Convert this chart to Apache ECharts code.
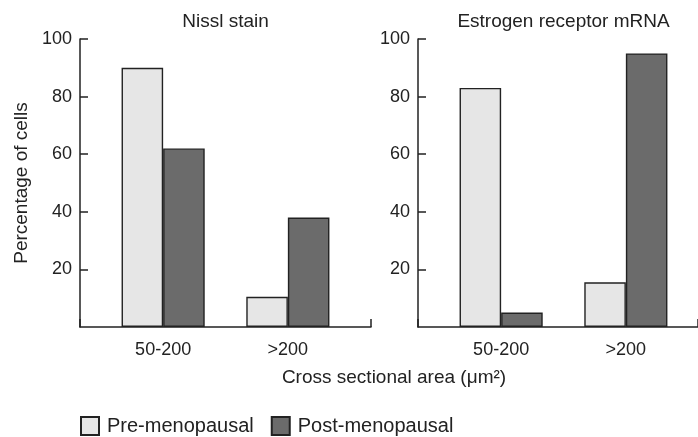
<!DOCTYPE html>
<html>
<head>
<meta charset="utf-8">
<script src="https://cdn.jsdelivr.net/npm/echarts@6/dist/echarts.min.js"></script>
<style>
html,body{margin:0;padding:0;background:#fff;}
#chart{width:698px;height:437px;}
</style>
</head>
<body>
<div id="chart"></div>
<script>
// ---- data ----
const categories = ['50-200', '>200'];
const seriesNames = ['Pre-menopausal', 'Post-menopausal'];
const nisslPre = [90, 10.5];
const nisslPost = [62, 38];
const erPre = [83, 15.5];
const erPost = [5, 95];
const yTicks = [0, 20, 40, 60, 80, 100];
const panelTitles = ['Nissl stain', 'Estrogen receptor mRNA'];
const xAxisName = 'Cross sectional area (\u03bcm\u00b2)';
const yAxisName = 'Percentage of cells';

// ---- styling ----
const FONT = "'Liberation Sans', Arial, Helvetica, sans-serif";
const INK = '#222';
const preColor = '#e6e6e6';
const postColor = '#6b6b6b';

const plotTop = 39, plotH = 288;
const frameW = 291;
const unit = frameW / 7;
const panels = [80, 418];

const grids = [];
const xAxes = [];
const yAxes = [];
panels.forEach((left, p) => {
  grids.push({left: left, top: plotTop, width: frameW, height: plotH});
  grids.push({left: left + unit * 0.5, top: plotTop, width: unit * 6, height: plotH});
  const gf = p * 2, gd = p * 2 + 1;
  xAxes.push({
    gridIndex: gf, type: 'value', min: 0, max: 1, interval: 1,
    axisLine: {show: true, lineStyle: {color: INK, width: 1.5}},
    axisTick: {show: true, inside: true, length: 8, lineStyle: {color: INK, width: 1.5}},
    axisLabel: {show: false}, splitLine: {show: false}
  });
  xAxes.push({
    gridIndex: gd, type: 'category', data: categories,
    axisLine: {show: false}, axisTick: {show: false},
    axisLabel: {margin: 14, fontSize: 18, color: INK, fontFamily: FONT},
    splitLine: {show: false}
  });
  yAxes.push({
    gridIndex: gf, type: 'value', min: yTicks[0], max: yTicks[yTicks.length - 1], interval: yTicks[1] - yTicks[0],
    axisLine: {show: true, lineStyle: {color: INK, width: 1.5}},
    axisTick: {show: true, inside: true, length: 8, lineStyle: {color: INK, width: 1.5}},
    axisLabel: {margin: 8, fontSize: 18, color: INK, fontFamily: FONT, showMinLabel: false,
      formatter: v => (v === 0 ? '' : String(v))},
    splitLine: {show: false},
    name: p === 0 ? yAxisName : '',
    nameLocation: 'middle', nameGap: 49,
    nameTextStyle: {fontSize: 19, color: INK, fontFamily: FONT}
  });
  yAxes.push({
    gridIndex: gd, type: 'value', min: yTicks[0], max: yTicks[yTicks.length - 1], show: false
  });
});

function barSeries(name, data, color, p) {
  return {
    name: name, type: 'bar', data: data,
    xAxisIndex: p * 2 + 1, yAxisIndex: p * 2 + 1,
    barCategoryGap: '33.333%', barGap: '0%',
    itemStyle: {color: color, borderColor: INK, borderWidth: 1.4},
    emphasis: {disabled: true}
  };
}

const option = {
  animation: false,
  backgroundColor: '#fff',
  textStyle: {fontFamily: FONT, color: INK},
  title: [
    {text: panelTitles[0], left: panels[0] + frameW / 2, top: 12, textAlign: 'center', padding: 0,
     textStyle: {fontSize: 19, fontWeight: 'normal', color: INK, fontFamily: FONT}},
    {text: panelTitles[1], left: panels[1] + frameW / 2, top: 12, textAlign: 'center', padding: 0,
     textStyle: {fontSize: 19, fontWeight: 'normal', color: INK, fontFamily: FONT}},
    {text: xAxisName, left: 394, top: 368, textAlign: 'center', padding: 0,
     textStyle: {fontSize: 19, fontWeight: 'normal', color: INK, fontFamily: FONT}}
  ],
  legend: {
    data: seriesNames, left: 80, top: 416, padding: 0,
    itemWidth: 18, itemHeight: 18, itemGap: 17, icon: 'rect',
    textStyle: {fontSize: 20, color: INK, fontFamily: FONT, padding: [0, 0, 0, 3]},
    selectedMode: false
  },
  grid: grids,
  xAxis: xAxes,
  yAxis: yAxes,
  series: [
    barSeries(seriesNames[0], nisslPre, preColor, 0),
    barSeries(seriesNames[1], nisslPost, postColor, 0),
    barSeries(seriesNames[0], erPre, preColor, 1),
    barSeries(seriesNames[1], erPost, postColor, 1)
  ]
};

const chart = echarts.init(document.getElementById('chart'), null, {renderer: 'canvas'});
chart.setOption(option);
</script>
</body>
</html>
